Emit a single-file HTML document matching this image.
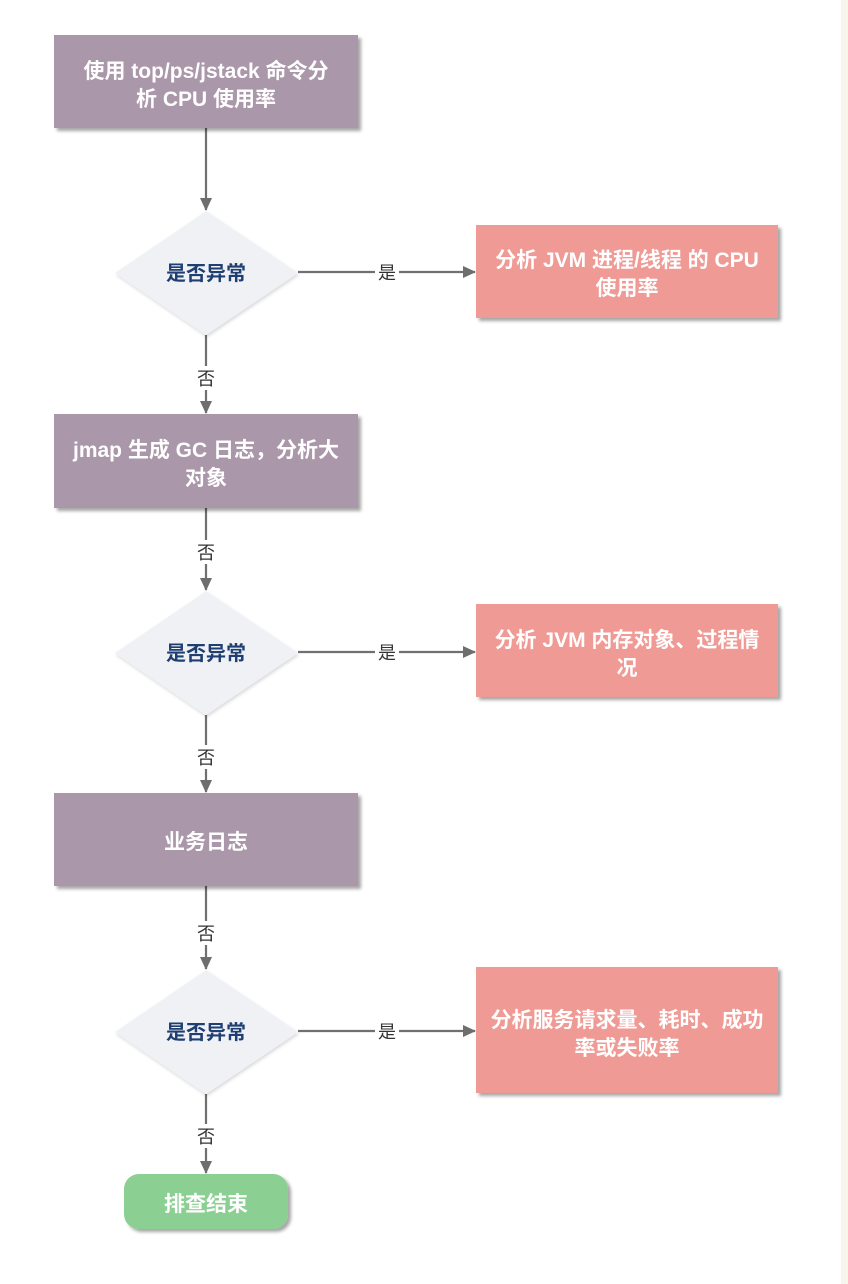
<!DOCTYPE html>
<html><head><meta charset="utf-8"><style>
html,body{margin:0;padding:0;background:#fff;}
svg{display:block;}
text{font-family:"Liberation Sans","Noto Sans CJK SC",sans-serif;}
.w{fill:#fff;font-weight:bold;font-size:21px;text-anchor:middle;}
.d{fill:#1f3f73;font-weight:bold;font-size:20px;text-anchor:middle;}
.l{fill:#333;font-size:18px;text-anchor:middle;}
</style></head><body>
<svg width="848" height="1284" viewBox="0 0 848 1284" xmlns="http://www.w3.org/2000/svg">
<defs>
<filter id="sh" x="-10%" y="-10%" width="130%" height="130%"><feDropShadow dx="3" dy="3" stdDeviation="1.5" flood-color="#000" flood-opacity="0.35"/></filter>
<filter id="sh2" x="-10%" y="-10%" width="130%" height="130%"><feDropShadow dx="1" dy="2" stdDeviation="1.5" flood-color="#000" flood-opacity="0.15"/></filter>
<marker id="ar" markerWidth="13" markerHeight="12" refX="12" refY="6" orient="auto" markerUnits="userSpaceOnUse"><path d="M0,0 L13,6 L0,12 Z" fill="#6e6e6e"/></marker>
</defs>
<rect x="841" y="0" width="7" height="1284" fill="#f6f7ea"/>
<g stroke="#707070" stroke-width="2.2" fill="none">
<line x1="206" y1="128" x2="206" y2="210" marker-end="url(#ar)"/>
<line x1="206" y1="335" x2="206" y2="413" marker-end="url(#ar)"/>
<line x1="206" y1="508" x2="206" y2="590" marker-end="url(#ar)"/>
<line x1="206" y1="715" x2="206" y2="792" marker-end="url(#ar)"/>
<line x1="206" y1="886" x2="206" y2="969" marker-end="url(#ar)"/>
<line x1="206" y1="1094" x2="206" y2="1173" marker-end="url(#ar)"/>
<line x1="298" y1="272" x2="475" y2="272" marker-end="url(#ar)"/>
<line x1="298" y1="652" x2="475" y2="652" marker-end="url(#ar)"/>
<line x1="298" y1="1031" x2="475" y2="1031" marker-end="url(#ar)"/>
</g>
<g fill="#fff">
<rect x="195" y="366" width="22" height="24"/><rect x="195" y="540" width="22" height="24"/>
<rect x="195" y="745" width="22" height="24"/><rect x="195" y="921" width="22" height="24"/>
<rect x="195" y="1124" width="22" height="24"/>
<rect x="375" y="262" width="24" height="20"/><rect x="375" y="642" width="24" height="20"/><rect x="375" y="1021" width="24" height="20"/>
</g>
<text class="l" x="206" y="385">否</text><text class="l" x="206" y="559">否</text>
<text class="l" x="206" y="764">否</text><text class="l" x="206" y="940">否</text>
<text class="l" x="206" y="1143">否</text>
<text class="l" x="387" y="279">是</text><text class="l" x="387" y="659">是</text><text class="l" x="387" y="1038">是</text>

<g filter="url(#sh)">
<rect x="54" y="35" width="304" height="93" fill="#aa97a9"/>
<rect x="54" y="414" width="304" height="94" fill="#aa97a9"/>
<rect x="54" y="793" width="304" height="93" fill="#aa97a9"/>
<rect x="476" y="225" width="302" height="93" fill="#ef9a94"/>
<rect x="476" y="604" width="302" height="93" fill="#ef9a94"/>
<rect x="476" y="967" width="302" height="126" fill="#ef9a94"/>
<rect x="124" y="1174" width="164" height="55" rx="15" fill="#8ccf92"/>
</g>
<g fill="#eff1f4" filter="url(#sh2)">
<polygon points="206,211 298,273 206,335 115,273"/>
<polygon points="206,591 298,653 206,715 115,653"/>
<polygon points="206,970 298,1032 206,1094 115,1032"/>
</g>
<text class="d" x="206" y="280">是否异常</text>
<text class="d" x="206" y="660">是否异常</text>
<text class="d" x="206" y="1039">是否异常</text>

<text class="w" x="206" y="78">使用 top/ps/jstack 命令分</text>
<text class="w" x="206" y="106">析 CPU 使用率</text>
<text class="w" x="206" y="457">jmap 生成 GC 日志，分析大</text>
<text class="w" x="206" y="485">对象</text>
<text class="w" x="206" y="849">业务日志</text>
<text class="w" x="627" y="267">分析 JVM 进程/线程 的 CPU</text>
<text class="w" x="627" y="295">使用率</text>
<text class="w" x="627" y="647">分析 JVM 内存对象、过程情</text>
<text class="w" x="627" y="675">况</text>
<text class="w" x="627" y="1027">分析服务请求量、耗时、成功</text>
<text class="w" x="627" y="1055">率或失败率</text>
<text class="w" x="206" y="1211">排查结束</text>
</svg>
</body></html>
